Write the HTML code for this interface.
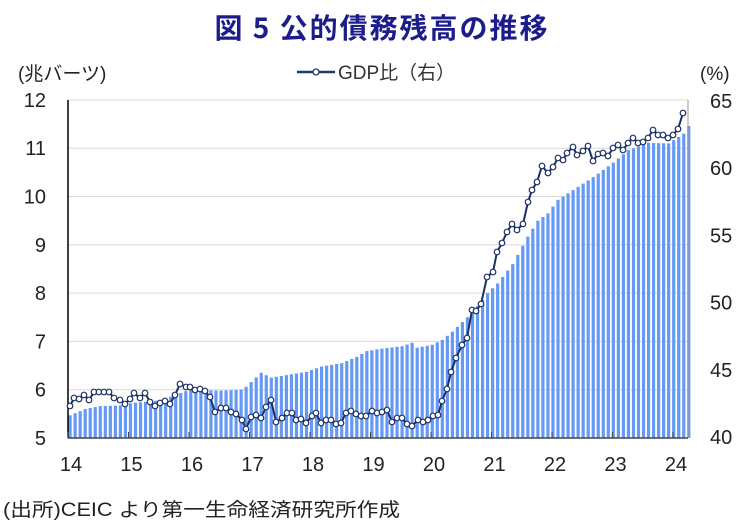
<!DOCTYPE html>
<html><head><meta charset="utf-8"><style>
body{margin:0;background:#fff;}
svg{display:block;font-family:"Liberation Sans","Noto Sans CJK JP",sans-serif;}
</style></head><body>
<svg id="s" width="746" height="522" viewBox="0 0 746 522" xmlns="http://www.w3.org/2000/svg">
<text x="381" y="38" text-anchor="middle" font-size="28" font-weight="bold" fill="#1c1c8a" font-family="'Noto Sans CJK JP',sans-serif" textLength="333" lengthAdjust="spacing">図 5  公的債務残高の推移</text>
<text x="18" y="80" font-size="19" fill="#222">(兆バーツ)</text>
<text x="700" y="80" font-size="19" fill="#222">(%)</text>
<line x1="297" y1="72" x2="335" y2="72" stroke="#1f3a6e" stroke-width="2.5"/>
<circle cx="316" cy="72" r="3" fill="#fff" stroke="#1f3a6e" stroke-width="1.3"/>
<text x="338" y="79" font-size="19" fill="#333">GDP比（右）</text>
<g id="grid" stroke="#d9d9d9" stroke-width="1"></g>
<g id="bars" fill="#6699f5"></g>
<line x1="688" y1="100" x2="688" y2="438" stroke="#999"/>
<line x1="68" y1="100" x2="68" y2="438" stroke="#000" stroke-width="1.5"/>
<line x1="68" y1="438" x2="688" y2="438" stroke="#444" stroke-width="1.5"/>
<g id="ticks" stroke="#444"></g>
<g id="lab" font-size="20" fill="#222"></g>
<polyline id="ln" fill="none" stroke="#1a2f66" stroke-width="2"/>
<g id="pts" fill="#fff" stroke="#1a2f66" stroke-width="1.2"></g>
<text x="3" y="516" font-size="19" fill="#222" textLength="397" lengthAdjust="spacingAndGlyphs">(出所)CEIC より第一生命経済研究所作成</text>
</svg>
<script>
var NS="http://www.w3.org/2000/svg";
function el(p,t,a,txt){var e=document.createElementNS(NS,t);for(var k in a)e.setAttribute(k,a[k]);if(txt!==undefined)e.textContent=txt;document.getElementById(p).appendChild(e);}
function yL(v){return 438-(v-5)*48.3;}
for(var v=6;v<=12;v++)el("grid","line",{x1:68,x2:688,y1:yL(v),y2:yL(v)});
for(var v=5;v<=12;v++)el("lab","text",{x:46,y:yL(v)+7,"text-anchor":"end"},String(v));
for(var r=40;r<=65;r+=5)el("lab","text",{x:710,y:437-(r-40)*13.44+7},String(r));
var yrs=["14","15","16","17","18","19","20","21","22","23","24"];
for(var i=0;i<11;i++){var x=68+i*60.5;el("ticks","line",{x1:x,x2:x,y1:432,y2:438});el("lab","text",{x:x+3,y:471,"text-anchor":"middle"},yrs[i]);}
var A=[[0,5.47],[3,5.6],[6,5.66],[11,5.68],[12,5.72],[18,5.78],[23,5.97],[24,6.0],[30,5.98],[34,6.0],[35,6.06],[38,6.35],[40,6.25],[47,6.37],[50,6.48],[54,6.55],[57,6.68],[59,6.8],[62,6.85],[66,6.9],[68,6.97],[69,6.87],[72,6.93],[74,7.03],[76,7.2],[78,7.4],[80,7.6],[82,7.86],[83,8.0],[85,8.2],[88,8.6],[91,9.17],[93,9.5],[95,9.65],[97,9.93],[101,10.2],[104,10.4],[108,10.7],[111,10.96],[115,11.11],[119,11.1],[122,11.3],[123,11.46]];
for(var i=0;i<=123;i++){var v=A[0][1];for(var j=0;j<A.length-1;j++){if(i>=A[j][0]&&i<=A[j+1][0]){v=A[j][1]+(A[j+1][1]-A[j][1])*(i-A[j][0])/(A[j+1][0]-A[j][0]);break;}}
var x=68.5+5.03*i;var y=yL(v);el("bars","rect",{x:x,y:y,width:3.2,height:438-y});}
var P=[[70,406],[74,398],[79,399],[84,395],[89,400],[94,392],[99,392],[104,392],[109,392],[114,398],[120,400],[125,404],[130,399],[134,393],[140,398],[145,393],[150,402],[155,406],[160,403],[165,401],[170,404],[175,395],[180,384],[186,387],[190,387],[195,390],[200,389],[205,391],[210,397],[215,412],[221,408],[226,408],[231,412],[236,414],[242,420],[246,429],[251,417],[256,415],[261,418],[266,407],[271,400],[276,422],[282,418],[287,413],[292,413],[296,420],[301,419],[306,423],[312,416],[316,413],[321,423],[326,420],[331,420],[336,424],[341,423],[346,413],[351,411],[356,414],[361,416],[366,416],[372,411],[377,413],[382,412],[387,410],[392,422],[397,418],[402,418],[407,424],[412,426],[418,420],[423,422],[428,420],[433,416],[438,415],[442,401],[447,389],[451,372],[456,358],[462,345],[467,338],[472,310],[476,311],[481,304],[487,277],[493,272],[497,252],[502,243],[507,232],[512,224],[517,230],[523,224],[528,202],[532,190],[537,182],[542,166],[548,173],[553,167],[558,158],[563,160],[567,153],[573,147],[577,155],[583,151],[588,146],[593,161],[598,154],[603,153],[608,156],[613,148],[618,145],[623,150],[628,143],[633,138],[638,143],[643,142],[648,138],[653,130],[658,135],[663,135],[668,138],[673,135],[678,129],[683,113]];
document.getElementById("ln").setAttribute("points",P.map(function(p){return p.join(",")}).join(" "));
P.forEach(function(p){el("pts","circle",{cx:p[0],cy:p[1],r:2.8});});
</script>
</body></html>
